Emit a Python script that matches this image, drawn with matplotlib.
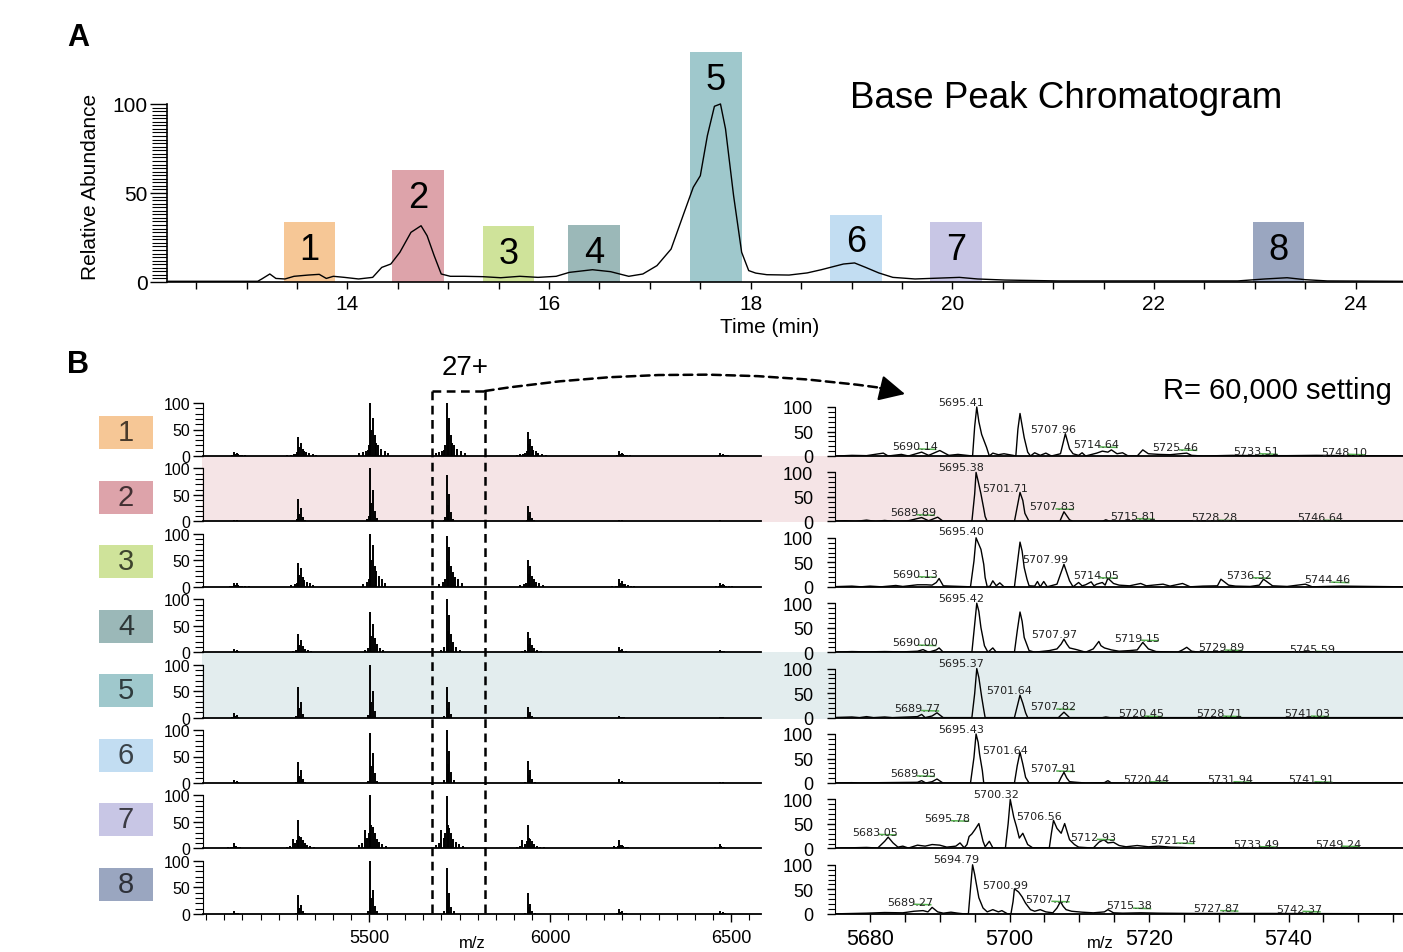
import matplotlib
matplotlib.use('Agg')
import matplotlib.pyplot as plt
from matplotlib.patches import Rectangle
from matplotlib.ticker import MultipleLocator, FixedLocator, NullLocator

plt.rcParams['font.family'] = ['Liberation Sans', 'DejaVu Sans']

# ---------------- data ----------------
# A: base peak chromatogram
bpc_time = [12.22, 13.11, 13.15, 13.23, 13.29, 13.38, 13.47, 13.61, 13.72, 13.79,
            13.86, 13.97, 14.11, 14.25, 14.34, 14.43, 14.52, 14.63, 14.73, 14.79,
            14.86, 14.93, 15.02, 15.16, 15.34, 15.52, 15.71, 15.89, 16.07, 16.20,
            16.43, 16.61, 16.79, 16.93, 17.07, 17.21, 17.34, 17.43, 17.50, 17.57,
            17.64, 17.70, 17.75, 17.83, 17.91, 17.98, 18.05, 18.16, 18.38, 18.56,
            18.70, 18.83, 18.92, 19.03, 19.14, 19.27, 19.41, 19.63, 20.07, 20.25,
            20.52, 21.05, 21.94, 22.83, 23.10, 23.32, 23.50, 23.72, 24.47]
bpc_abund = [0.4, 0.4, 1.7, 4.5, 2.0, 1.7, 3.2, 3.9, 4.3, 2.0,
             3.2, 2.6, 1.7, 2.6, 8.2, 10.1, 16.7, 27.9, 31.6, 26.0,
             14.8, 4.5, 3.2, 3.2, 3.0, 2.4, 3.2, 2.6, 3.2, 5.4,
             6.9, 5.8, 3.2, 4.5, 9.2, 18.5, 39.1, 53.2, 59.7, 82.2,
             98.7, 100.0, 86.0, 48.5, 16.7, 6.4, 5.0, 4.1, 3.9, 5.1,
             6.9, 8.8, 10.1, 10.7, 8.2, 5.1, 2.6, 1.7, 2.6, 1.7,
             1.1, 0.6, 0.6, 0.6, 1.7, 2.4, 1.3, 0.6, 0.4]

frac_start = [13.37, 14.44, 15.34, 16.19, 17.40, 18.79, 19.78, 22.98]
frac_end = [13.88, 14.96, 15.85, 16.70, 17.91, 19.30, 20.29, 23.49]
frac_top = [33.7, 63.0, 31.5, 32.0, 129.0, 37.8, 33.7, 33.7]
frac_colors = ['#F6C796', '#DDA3AA', '#CFE39A', '#9BB8B8',
               '#9FC8CC', '#C2DDF2', '#C8C6E5', '#9AA6C0']

# B left: charge state envelopes (m/z of each charge state)
charge_mz = [5126, 5304, 5503, 5714, 5938, 6191, 6470]
env_height = [
    [8, 35, 100, 100, 45, 9, 5],
    [3, 42, 100, 87, 29, 3, 2],
    [8, 45, 100, 96, 50, 15, 7],
    [6, 34, 76, 100, 38, 9, 4],
    [9, 58, 100, 58, 20, 3, 1],
    [5, 40, 94, 100, 41, 7, 2],
    [10, 53, 100, 98, 44, 15, 8],
    [5, 35, 100, 86, 40, 10, 6],
]
# peaks inside one envelope (m/z offset, relative height), per fraction
stick_offset = [
    [-30, -20, -12, -6, -3, 0, 3, 8, 12, 16, 22, 30, 40, 50],
    [-8, -3, 0, 3, 8, 12, 18],
    [-20, -10, -4, 0, 3, 8, 12, 17, 24, 32, 42],
    [-15, -6, 0, 3, 8, 12, 18, 26, 36],
    [-6, 0, 3, 8, 13],
    [-6, 0, 3, 8, 13, 20],
    [-30, -22, -15, -8, -3, 0, 3, 7, 12, 18, 25, 34, 45],
    [-6, 0, 3, 8, 13, 20],
]
stick_rel = [
    [0.06, 0.08, 0.10, 0.12, 0.20, 1.0, 0.50, 0.72, 0.40, 0.25, 0.20, 0.14, 0.09, 0.05],
    [0.04, 0.10, 1.0, 0.35, 0.60, 0.20, 0.06],
    [0.06, 0.10, 0.15, 1.0, 0.50, 0.78, 0.40, 0.30, 0.20, 0.15, 0.08],
    [0.05, 0.10, 1.0, 0.40, 0.70, 0.35, 0.20, 0.10, 0.05],
    [0.05, 1.0, 0.30, 0.50, 0.12],
    [0.05, 1.0, 0.35, 0.60, 0.20, 0.05],
    [0.06, 0.10, 0.35, 0.20, 0.30, 1.0, 0.45, 0.40, 0.30, 0.18, 0.12, 0.08, 0.05],
    [0.06, 1.0, 0.30, 0.45, 0.15, 0.06],
]
zoom_window = [5675, 5820]

# B right: 27+ charge state at R = 60,000
r1_mz = [5675.3, 5677.4, 5679.5, 5681.9, 5682.6, 5684.5, 5685.5, 5687.4, 5688.4, 5690.0,
         5691.3, 5692.6, 5694.7, 5695.0, 5695.3, 5695.6, 5696.0, 5696.7, 5697.1, 5697.6,
         5698.4, 5699.2, 5700.5, 5700.9, 5701.2, 5701.5, 5702.1, 5702.6, 5703.0, 5703.6,
         5704.4, 5705.2, 5706.0, 5707.3, 5708.0, 5708.6, 5709.1, 5709.9, 5710.4, 5710.9,
         5712.5, 5713.3, 5714.1, 5714.6, 5715.4, 5716.2, 5717.0, 5718.3, 5719.1, 5719.9,
         5721.4, 5723.0, 5725.4, 5726.1, 5727.7, 5731.9, 5736.1, 5739.8, 5744.0, 5748.7,
         5756.4]
r1_int = [0, 1.3, 0.7, 5.9, 0, 3.3, 0, 7.9, 1.3, 11.2,
          1.3, 3.3, 0, 60, 100, 70, 44, 17.8, 0, 5.9,
          2.6, 4.6, 1.3, 0, 55, 86.8, 37.5, 7.9, 0, 6.6,
          1.3, 5.9, 0, 4.6, 45.4, 14.5, 4.6, 1.3, 6.6, 0,
          5.9, 9.9, 7.9, 12.5, 4.6, 6.6, 0, 0, 12.5, 4.6,
          3.3, 2.6, 5.9, 1.3, 0, 1.3, 0.7, 0.7, 1.3, 0.7,
          0]
r2_mz = [5674.3, 5676.4, 5677.9, 5679.5, 5680.8, 5682.1, 5683.4, 5685.3, 5687.4, 5688.4,
         5689.7, 5690.5, 5694.6, 5695.0, 5695.2, 5695.5, 5695.9, 5696.3, 5696.5, 5696.8,
         5700.7, 5701.1, 5701.5, 5701.9, 5702.2, 5702.8, 5707.2, 5707.8, 5708.6, 5709.1,
         5713.3, 5713.8, 5714.4, 5721.4, 5729.3, 5737.2, 5756.4]
r2_int = [0, 1.3, 0, 2.6, 0, 2.0, 0, 0.7, 7.9, 1.3,
          8.6, 0, 0, 56, 100, 82, 56, 26, 9.9, 0,
          0, 29.6, 59.2, 42.8, 16.4, 0, 0, 19.7, 3.3, 0,
          0, 3.3, 0, 0.7, 0.7, 0, 0]
r3_mz = [5674.3, 5677.4, 5678.7, 5680.0, 5681.6, 5683.7, 5684.7, 5686.8, 5688.1, 5688.9,
         5689.5, 5689.9, 5690.5, 5691.6, 5694.4, 5694.9, 5695.2, 5695.5, 5695.9, 5696.3,
         5696.5, 5696.8, 5697.2, 5697.6, 5698.1, 5698.6, 5699.2, 5700.7, 5701.1, 5701.5,
         5701.8, 5702.1, 5702.5, 5702.8, 5703.6, 5704.0, 5704.4, 5704.9, 5705.4, 5706.8,
         5707.3, 5707.8, 5708.2, 5708.6, 5709.1, 5709.9, 5710.4, 5710.9, 5711.7, 5712.1,
         5712.5, 5713.3, 5713.7, 5714.1, 5714.9, 5715.7, 5717.2, 5718.8, 5719.6, 5722.0,
         5723.0, 5724.8, 5725.9, 5727.7, 5729.8, 5730.3, 5731.4, 5732.4, 5734.5, 5735.8,
         5736.4, 5737.7, 5739.8, 5742.4, 5743.4, 5747.6, 5751.8, 5756.4]
r3_int = [0, 1.4, 0, 1.4, 0, 2.7, 0.7, 4.1, 4.1, 3.4,
          8.8, 16.9, 2.0, 1.4, 0, 52.7, 100, 89.9, 76.4, 45.9,
          18.9, 0, 1.4, 12.2, 2.0, 8.1, 0, 0, 45.9, 91.2,
          73.0, 39.2, 15.5, 2.0, 1.4, 10.8, 0, 10.8, 0, 5.4,
          25.7, 45.9, 29.0, 12.2, 0, 8.8, 2.0, 4.1, 10.1, 2.0,
          5.4, 8.8, 3.4, 17.6, 6.8, 3.4, 2.0, 6.8, 2.0, 5.4,
          1.4, 6.8, 0, 1.4, 2.0, 15.5, 3.4, 1.4, 0.7, 3.4,
          15.5, 2.0, 0.7, 5.4, 0, 1.4, 0.7, 0]
r4_mz = [5674.3, 5677.4, 5679.5, 5682.1, 5684.7, 5686.8, 5687.6, 5688.4, 5689.5, 5689.9,
         5690.5, 5694.6, 5695.0, 5695.3, 5695.6, 5695.9, 5696.4, 5696.9, 5697.6, 5698.1,
         5700.7, 5701.1, 5701.5, 5701.8, 5702.1, 5702.8, 5703.6, 5705.7, 5706.8, 5707.4,
         5707.8, 5708.2, 5708.6, 5709.6, 5710.9, 5712.0, 5712.8, 5713.1, 5713.6, 5714.6,
         5715.7, 5717.2, 5718.3, 5719.1, 5719.9, 5721.0, 5724.1, 5724.8, 5725.4, 5726.1,
         5727.2, 5731.9, 5736.1, 5739.8, 5744.0, 5750.3, 5756.4]
r4_int = [0, 1.3, 0.7, 1.3, 0.7, 2.0, 5.3, 0, 4.7, 8.7,
          0, 0, 56.7, 100, 83.3, 50, 13.3, 0, 8.7, 0,
          0, 43.3, 82, 63.3, 30, 3.3, 0, 3.3, 6.7, 16.7,
          26.7, 16.7, 8.7, 5.3, 0, 6.7, 22, 13.3, 8.7, 4.7,
          2.0, 3.3, 4.7, 20, 6.7, 1.3, 0, 4.7, 10, 2.0,
          0, 1.3, 0.7, 0.7, 0.7, 0, 0]
r5_mz = [5674.3, 5677.4, 5678.5, 5679.5, 5680.5, 5682.1, 5683.2, 5686.8, 5687.4, 5687.9,
         5688.9, 5689.6, 5690.3, 5690.5, 5694.6, 5695.0, 5695.3, 5695.6, 5696.0, 5696.3,
         5696.5, 5700.7, 5701.1, 5701.5, 5701.9, 5702.3, 5702.6, 5707.0, 5707.8, 5708.6,
         5713.3, 5713.8, 5714.4, 5756.4]
r5_int = [0, 1.3, 0, 2.0, 0, 1.3, 0, 2.0, 6.5, 0,
          3.3, 9.8, 2.0, 0, 0, 49, 100, 81.7, 42.5, 16.3,
          0, 0, 22.9, 45.8, 29.4, 9.8, 0, 0, 11.1, 0,
          0, 1.3, 0, 0]
r6_mz = [5674.3, 5677.4, 5678.5, 5681.6, 5686.8, 5687.4, 5688.0, 5688.9, 5689.6, 5690.3,
         5690.5, 5694.4, 5694.9, 5695.2, 5695.5, 5695.7, 5696.1, 5696.3, 5700.7, 5701.1,
         5701.5, 5701.9, 5702.3, 5702.8, 5707.0, 5707.4, 5707.8, 5708.2, 5708.6, 5709.6,
         5710.9, 5713.6, 5714.1, 5714.6, 5756.4]
r6_int = [0, 0.7, 0, 0.7, 1.4, 4.8, 0, 2.7, 8.2, 1.4,
          0, 0, 52.4, 100, 83, 59.2, 25.2, 0, 0, 35.4,
          62.6, 38.8, 11.6, 0, 0, 11.6, 21.8, 10.2, 2.7, 1.4,
          0, 0.7, 4.8, 0, 0]
r7_mz = [5674.3, 5675.3, 5677.4, 5679.5, 5681.1, 5682.1, 5682.6, 5683.3, 5684.0, 5684.7,
         5685.5, 5686.8, 5687.9, 5688.9, 5690.0, 5691.0, 5692.3, 5692.9, 5693.5, 5693.9,
         5694.2, 5694.6, 5695.0, 5695.6, 5696.2, 5696.5, 5697.1, 5697.6, 5699.4, 5699.8,
         5700.1, 5700.6, 5701.0, 5701.4, 5701.9, 5702.6, 5703.3, 5705.7, 5706.0, 5706.3,
         5706.8, 5707.0, 5707.4, 5707.9, 5708.6, 5709.3, 5709.9, 5712.0, 5712.8, 5713.5,
         5714.1, 5714.9, 5715.7, 5716.7, 5718.3, 5719.9, 5721.4, 5723.0, 5724.6, 5726.7,
         5731.9, 5737.1, 5745.0, 5756.4]
r7_int = [0, 0.7, 1.3, 2.0, 0.7, 14.5, 23, 11.2, 2.6, 4.6,
          0.7, 6.6, 4.6, 7.9, 6.6, 2.6, 4.6, 11.2, 1.3, 7.9,
          24.3, 29.6, 37.5, 50.7, 14.5, 3.3, 14.5, 1.3, 0, 50.7,
          100, 63.8, 44.1, 21.1, 30.9, 7.9, 1.3, 1.3, 30.9, 57.2,
          40.8, 37.5, 30.9, 50.7, 17.8, 7.9, 2.6, 0.7, 12.5, 17.8,
          11.2, 12.5, 5.9, 3.3, 5.9, 3.3, 4.6, 2.6, 2.0, 0.7,
          1.3, 0.7, 0.7, 0]
r8_mz = [5674.3, 5675.3, 5679.5, 5682.1, 5684.7, 5686.3, 5687.6, 5688.3, 5688.9, 5689.7,
         5690.5, 5691.6, 5692.6, 5693.4, 5694.1, 5694.4, 5694.7, 5695.0, 5695.2, 5695.6,
         5696.2, 5696.8, 5697.6, 5698.4, 5698.9, 5699.7, 5700.2, 5700.5, 5700.7, 5701.3,
         5701.8, 5702.3, 5703.0, 5703.6, 5704.4, 5705.2, 5706.2, 5706.8, 5707.3, 5707.7,
         5708.1, 5708.9, 5710.4, 5712.0, 5713.6, 5714.1, 5714.9, 5716.2, 5718.8, 5721.4,
         5726.7, 5737.2, 5756.4]
r8_int = [0, 0, 1.3, 2.6, 2.0, 5.2, 6.5, 3.9, 13.1, 3.9,
          1.3, 3.3, 1.3, 0, 0, 51, 100, 80.4, 64.1, 32.7,
          11.8, 3.9, 8.5, 3.9, 6.5, 0, 0, 24.8, 51, 44.4,
          34.6, 21.6, 8.5, 5.2, 8.5, 3.9, 2.0, 11.8, 24.8, 15,
          8.5, 5.2, 3.3, 2.0, 3.9, 8.5, 2.0, 1.3, 2.0, 1.3,
          0.7, 0.7, 0]
zoom_mz = [r1_mz, r2_mz, r3_mz, r4_mz, r5_mz, r6_mz, r7_mz, r8_mz]
zoom_int = [r1_int, r2_int, r3_int, r4_int, r5_int, r6_int, r7_int, r8_int]

# peak labels: text, label centre (m/z), label height (relative abundance)
peak_text = [
    ['5695.41', '5707.96', '5690.14', '5714.64', '5725.46', '5733.51', '5748.10'],
    ['5695.38', '5701.71', '5707.83', '5689.89', '5715.81', '5728.28', '5746.64'],
    ['5695.40', '5707.99', '5690.13', '5714.05', '5736.52', '5744.46'],
    ['5695.42', '5707.97', '5690.00', '5719.15', '5729.89', '5745.59'],
    ['5695.37', '5701.64', '5707.82', '5689.77', '5720.45', '5728.71', '5741.03'],
    ['5695.43', '5701.64', '5707.91', '5689.95', '5720.44', '5731.94', '5741.91'],
    ['5700.32', '5706.56', '5695.78', '5683.05', '5712.93', '5721.54', '5733.49', '5749.24'],
    ['5694.79', '5700.99', '5707.17', '5689.27', '5715.38', '5727.87', '5742.37'],
]
peak_lx = [
    [5693.1, 5706.3, 5686.4, 5712.4, 5723.8, 5735.3, 5747.9],
    [5693.1, 5699.3, 5706.1, 5686.2, 5717.7, 5729.4, 5744.5],
    [5693.1, 5705.1, 5686.4, 5712.4, 5734.3, 5745.6],
    [5693.1, 5706.4, 5686.4, 5718.3, 5730.3, 5743.4],
    [5693.1, 5700.0, 5706.2, 5686.8, 5718.8, 5730.1, 5742.7],
    [5693.1, 5699.3, 5706.2, 5686.2, 5719.6, 5731.6, 5743.2],
    [5698.1, 5704.2, 5691.1, 5680.7, 5712.0, 5723.4, 5735.3, 5747.1],
    [5692.3, 5699.4, 5705.5, 5685.7, 5717.2, 5729.7, 5741.5],
]
peak_ly = [
    [111, 55, 20, 24, 18, 10, 9],
    [112, 68, 31, 19, 11, 8, 8],
    [113, 57, 26, 24, 24, 15],
    [111, 37, 20, 30, 10, 7],
    [111, 57, 23, 20, 8.5, 8.5, 8.5],
    [110, 68, 30, 20, 8, 8, 8],
    [110, 67, 62, 34, 24, 16.5, 9, 10],
    [111, 59, 31, 25, 17, 12, 10.5],
]

# ---------------- figure ----------------
W, H = 1403, 953
fig = plt.figure(figsize=(W / 100, H / 100), dpi=100)


def px_axes(x0, y0, x1, y1, **kw):
    # axes from a pixel box (origin top-left)
    return fig.add_axes([x0 / W, 1 - y1 / H, (x1 - x0) / W, (y1 - y0) / H], **kw)


bg = px_axes(0, 0, W, H, zorder=-5)
bg.set_xlim(0, W)
bg.set_ylim(H, 0)
bg.axis('off')

# ---- panel A ----
axA = px_axes(167, 48, 1403, 283)
axA.set_facecolor('none')
for i in range(8):
    axA.add_patch(Rectangle((frac_start[i], 0), frac_end[i] - frac_start[i], frac_top[i],
                            color=frac_colors[i], lw=0, zorder=1))
    axA.annotate(str(i + 1), ((frac_start[i] + frac_end[i]) / 2, frac_top[i]),
                 xytext=(0, -7), textcoords='offset points', ha='center', va='top',
                 fontsize=26, zorder=3)
axA.plot(bpc_time, bpc_abund, color='k', lw=1.0, zorder=2)
axA.set_xlim(12.21, 24.47)
axA.set_ylim(0, 132)
for s in ['top', 'right']:
    axA.spines[s].set_visible(False)
axA.spines['left'].set_bounds(0, 100)
axA.spines['left'].set_linewidth(1.2)
axA.spines['bottom'].set_linewidth(1.2)
axA.set_xticks([14, 16, 18, 20, 22, 24])
axA.xaxis.set_minor_locator(MultipleLocator(0.5))
axA.set_yticks([0, 50, 100])
axA.yaxis.set_minor_locator(FixedLocator(list(range(0, 101, 2))))
axA.tick_params(axis='x', which='both', length=5, width=1, labelsize=15, pad=4)
axA.tick_params(axis='y', which='major', length=12, width=1, labelsize=15, pad=2)
axA.tick_params(axis='y', which='minor', length=11, width=0.8)
axA.set_xlabel('Time (min)', fontsize=15)
axA.xaxis.set_label_coords((770 - 167) / 1236, (283 - 318) / 235)
axA.set_ylabel('Relative Abundance', fontsize=15)
axA.yaxis.set_label_coords((100 - 167) / 1236, (283 - 187) / 235)

fig.text(78 / W, 1 - 38 / H, 'A', fontsize=22, fontweight='bold', ha='center', va='center')
fig.text(78 / W, 1 - 365 / H, 'B', fontsize=22, fontweight='bold', ha='center', va='center')
fig.text(1066 / W, 1 - 98 / H, 'Base Peak Chromatogram', fontsize=26.5, ha='center', va='center')
fig.text(1277 / W, 1 - 391 / H, 'R= 60,000 setting', fontsize=21, ha='center', va='center')

# ---- panel B ----
pitch = 65.4
bg.add_patch(Rectangle((202, 457 + pitch * 0), W - 202, pitch + 1, color='#F5E4E6', lw=0))
bg.add_patch(Rectangle((202, 457 + pitch * 3), W - 202, pitch + 1, color='#E3EDEE', lw=0))

left_axes = []
for r in range(8):
    yb = 457 + pitch * r
    yc = 433.5 + 64.5 * r
    bg.add_patch(Rectangle((99, yc - 16.5), 54, 33, color=frac_colors[r], lw=0))
    bg.text(126, yc, str(r + 1), ha='center', va='center', fontsize=21, color='k', alpha=0.7)

    # full spectrum
    axl = px_axes(203, yb - pitch, 761, yb)
    axl.set_facecolor('none')
    for c, cmz in enumerate(charge_mz):
        xs = [cmz + o for o in stick_offset[r]]
        hs = [env_height[r][c] * rel for rel in stick_rel[r]]
        axl.vlines(xs, 0, hs, color='k', lw=1.4)
    axl.set_xlim(5041, 6583)
    axl.set_ylim(0, 100 * pitch / 53)
    for s in ['top', 'right']:
        axl.spines[s].set_visible(False)
    axl.spines['left'].set_bounds(0, 100)
    axl.spines['bottom'].set_linewidth(1.3)
    axl.set_yticks([0, 50, 100])
    axl.yaxis.set_minor_locator(FixedLocator(list(range(0, 101, 10))))
    axl.tick_params(axis='y', which='major', length=7, width=1, labelsize=11.5, pad=2)
    axl.tick_params(axis='y', which='minor', length=6, width=0.8)
    if r < 7:
        axl.xaxis.set_major_locator(NullLocator())
    else:
        axl.set_xticks([5500, 6000, 6500])
        axl.xaxis.set_minor_locator(MultipleLocator(50))
        axl.tick_params(axis='x', which='major', length=6, width=1, labelsize=13, pad=5)
        axl.tick_params(axis='x', which='minor', length=4, width=0.8)
        axl.set_xlabel('m/z', fontsize=12)
        axl.xaxis.set_label_coords((472 - 203) / 558, (yb - 936) / pitch)
    left_axes.append(axl)

    # 27+ zoom
    axr = px_axes(835.5, yb - pitch, 1403, yb)
    axr.set_facecolor('none')
    axr.plot(zoom_mz[r], zoom_int[r], color='k', lw=1.0)
    for k, (t, lx, ly) in enumerate(zip(peak_text[r], peak_lx[r], peak_ly[r])):
        axr.text(lx, ly, t, fontsize=8, family='DejaVu Sans', color='#222222',
                 ha='center', va='center', clip_on=False)
        if k >= 2:
            axr.plot([lx + 0.6, lx + 3.0], [ly - 5.5, ly - 6.5], color='#55B04F', lw=1.1)
    axr.set_xlim(5675.05, 5756.4)
    axr.set_ylim(0, 100 * pitch / 49)
    for s in ['top', 'right']:
        axr.spines[s].set_visible(False)
    axr.spines['left'].set_bounds(0, 100)
    axr.spines['bottom'].set_linewidth(1.3)
    axr.set_yticks([0, 50, 100])
    axr.yaxis.set_minor_locator(FixedLocator(list(range(0, 101, 10))))
    axr.tick_params(axis='y', which='major', length=6, width=1, labelsize=13, pad=10)
    axr.tick_params(axis='y', which='minor', length=5, width=0.8)
    if r < 7:
        axr.xaxis.set_major_locator(NullLocator())
    else:
        axr.set_xticks([5680, 5700, 5720, 5740])
        axr.xaxis.set_minor_locator(MultipleLocator(5))
        axr.tick_params(axis='x', which='both', length=6, width=1, labelsize=15.5, pad=4)
        axr.set_xlabel('m/z', fontsize=12)
        axr.xaxis.set_label_coords((1100 - 835.5) / 567.5, (yb - 936) / pitch)

# ---- dashed zoom box and arrow ----
ov = px_axes(0, 0, W, H, zorder=10)
ov.set_xlim(0, W)
ov.set_ylim(H, 0)
ov.axis('off')
x_lo = left_axes[0].transData.transform((zoom_window[0], 0))[0]
x_hi = left_axes[0].transData.transform((zoom_window[1], 0))[0]
y_top, y_bot = 392, 457 + pitch * 7
dash = (0, (3.5, 2.2))
ov.plot([x_lo, x_lo], [y_top, y_bot], color='k', lw=1.8, ls=dash)
ov.plot([x_hi, x_hi], [y_top, y_bot], color='k', lw=1.8, ls=dash)
ov.plot([x_lo, x_hi], [y_top, y_top], color='k', lw=1.8, ls=dash)
ov.annotate('', xy=(882, 389), xytext=(x_hi, y_top),
            arrowprops=dict(arrowstyle='-', color='k', lw=1.8, linestyle=dash,
                            connectionstyle='arc3,rad=-0.075', shrinkA=0, shrinkB=0))
ov.annotate('', xy=(905, 395), xytext=(880, 389),
            arrowprops=dict(arrowstyle='-|>,head_length=0.8,head_width=0.4', color='k',
                            lw=1.5, mutation_scale=20, shrinkA=0, shrinkB=0))
ov.text(465, 368, '27+', fontsize=20, ha='center', va='center')

fig.savefig('out.png', dpi=100)
